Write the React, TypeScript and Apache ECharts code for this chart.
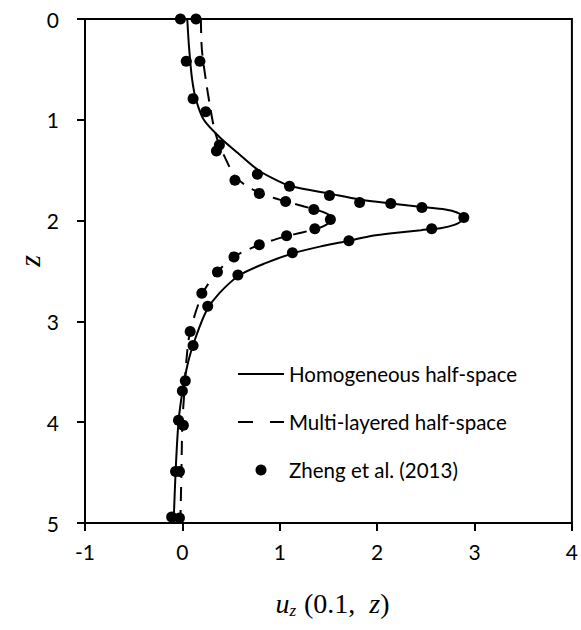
import React, { useEffect, useRef } from "react";
import * as echarts from "echarts";

// Homogeneous half-space (solid line): depth z and displacement u
const homoZ = [0, 0.3, 0.6, 0.8, 1.0, 1.17, 1.33, 1.5, 1.6, 1.66, 1.73, 1.79, 1.83, 1.865, 1.89, 1.92, 1.965, 2.0, 2.04, 2.075, 2.095, 2.12, 2.15, 2.2, 2.25, 2.32, 2.42, 2.54, 2.72, 2.89, 3.15, 3.4, 3.7, 4.0, 4.5, 5.0];
const homoU = [0.05, 0.07, 0.1, 0.14, 0.22, 0.38, 0.57, 0.78, 0.97, 1.12, 1.5, 1.82, 2.14, 2.46, 2.7, 2.82, 2.88, 2.87, 2.8, 2.65, 2.45, 2.2, 1.95, 1.71, 1.45, 1.15, 0.86, 0.59, 0.38, 0.25, 0.14, 0.06, 0.0, -0.04, -0.07, -0.09];

// Multi-layered half-space (dashed line)
const multiZ = [0, 0.3, 0.6, 0.9, 1.1, 1.25, 1.42, 1.55, 1.63, 1.69, 1.75, 1.81, 1.86, 1.9, 1.94, 1.99, 2.04, 2.08, 2.12, 2.16, 2.24, 2.36, 2.51, 2.72, 3.1, 3.4, 3.7, 4.0, 4.5, 4.97];
const multiU = [0.19, 0.2, 0.24, 0.29, 0.33, 0.38, 0.46, 0.53, 0.62, 0.72, 0.86, 1.06, 1.25, 1.4, 1.5, 1.53, 1.48, 1.38, 1.22, 1.05, 0.79, 0.53, 0.36, 0.21, 0.08, 0.04, 0.02, 0.0, -0.01, -0.02];

// Zheng et al. (2013) (dots)
const zhengU = [-0.02, 0.14, 0.04, 0.18, 0.11, 0.24, 0.38, 0.35, 0.77, 0.54, 1.1, 0.79, 1.51, 1.06, 1.82, 2.14, 2.46, 1.35, 2.89, 1.52, 2.56, 1.36, 1.07, 1.71, 0.79, 1.13, 0.53, 0.36, 0.57, 0.2, 0.26, 0.08, 0.11, 0.03, 0.0, -0.04, 0.01, -0.07, -0.03, -0.11, -0.03];
const zhengZ = [0, 0, 0.42, 0.42, 0.79, 0.92, 1.25, 1.31, 1.54, 1.6, 1.66, 1.73, 1.75, 1.81, 1.82, 1.83, 1.87, 1.89, 1.97, 1.99, 2.08, 2.08, 2.15, 2.2, 2.24, 2.32, 2.36, 2.51, 2.54, 2.72, 2.85, 3.1, 3.24, 3.59, 3.69, 3.98, 4.03, 4.49, 4.49, 4.94, 4.95];

const seriesNames = ["Homogeneous half-space", "Multi-layered half-space", "Zheng et al. (2013)"];
const xTicks = { min: -1, max: 4, interval: 1 };
const yTicks = { min: 0, max: 5, interval: 1 };

const pairs = (us: number[], zs: number[]) => us.map((u, i) => [u, zs[i]]);

export default function App() {
  const ref = useRef<HTMLDivElement>(null);
  useEffect(() => {
    if (!ref.current) return;
    const chart = echarts.init(ref.current, undefined, { renderer: "svg" });
    const tickFont = { fontFamily: "Lato", fontSize: 21, color: "#000" };
    chart.setOption({
      animation: false,
      backgroundColor: "#fff",
      grid: {
        left: 85,
        top: 19,
        right: 7,
        bottom: 107,
        show: true,
        borderColor: "#000",
        borderWidth: 2,
        backgroundColor: "transparent",
      },
      xAxis: {
        type: "value",
        min: xTicks.min,
        max: xTicks.max,
        interval: xTicks.interval,
        position: "bottom",
        axisLine: { show: true, onZero: false, lineStyle: { color: "#000", width: 2 } },
        axisTick: { show: true, inside: false, length: 8, lineStyle: { color: "#000", width: 2 } },
        axisLabel: { ...tickFont, margin: 18 },
        splitLine: { show: false },
        name: "{i|u}{sub|z}{sp|.}{n|(0.1,  }{i|z}{n|)}",
        nameLocation: "middle",
        nameGap: 64,
        nameTextStyle: {
          padding: [0, 0, 0, 8],
          rich: {
            i: { fontFamily: "Liberation Serif", fontStyle: "italic", fontSize: 28, color: "#000", lineHeight: 32 },
            n: { fontFamily: "Liberation Serif", fontSize: 28, color: "#000", lineHeight: 32 },
            sub: { fontFamily: "Liberation Serif", fontStyle: "italic", fontSize: 17, color: "#000", lineHeight: 15, verticalAlign: "bottom" },
            sp: { fontSize: 10, color: "transparent", width: 8, lineHeight: 15 },
          },
        },
      },
      yAxis: {
        type: "value",
        min: yTicks.min,
        max: yTicks.max,
        interval: yTicks.interval,
        inverse: true,
        position: "left",
        axisLine: { show: true, onZero: false, lineStyle: { color: "#000", width: 2 } },
        axisTick: { show: true, inside: false, length: 8, lineStyle: { color: "#000", width: 2 } },
        axisLabel: { ...tickFont, margin: 26 },
        splitLine: { show: false },
      },
      legend: {
        orient: "vertical",
        left: 237,
        top: 363,
        padding: 0,
        itemWidth: 46,
        itemHeight: 11,
        itemGap: 26,
        itemTextGap: 7,
        textStyle: { fontFamily: "Lato", fontSize: 20.5, color: "#000", lineHeight: 22 },
        data: [
          { name: seriesNames[0], itemStyle: { opacity: 0 } },
          { name: seriesNames[1], itemStyle: { opacity: 0 }, lineStyle: { type: [15, 17] } },
          { name: seriesNames[2] },
        ],
      },
      graphic: [
        {
          type: "text",
          x: 29,
          y: 261,
          rotation: Math.PI / 2,
          style: {
            text: "z",
            fontFamily: "Liberation Serif",
            fontStyle: "italic",
            fontSize: 30,
            fill: "#000",
            align: "center",
            verticalAlign: "middle",
          },
        },
      ],
      series: [
        {
          name: seriesNames[0],
          type: "line",
          data: pairs(homoU, homoZ),
          smooth: 0.3,
          symbol: "none",
          lineStyle: { color: "#000", width: 2 },
          itemStyle: { color: "#000" },
          z: 2,
        },
        {
          name: seriesNames[1],
          type: "line",
          data: pairs(multiU, multiZ),
          smooth: 0.3,
          symbol: "none",
          lineStyle: { color: "#000", width: 2, type: [14, 9] },
          itemStyle: { color: "#000" },
          z: 2,
        },
        {
          name: seriesNames[2],
          type: "scatter",
          data: pairs(zhengU, zhengZ),
          symbol: "circle",
          symbolSize: 11,
          itemStyle: { color: "#000", opacity: 1 },
          z: 3,
        },
      ],
    });
    return () => chart.dispose();
  }, []);
  return <div ref={ref} style={{ width: 581, height: 630, position: "absolute", left: 0, top: 0 }} />;
}
